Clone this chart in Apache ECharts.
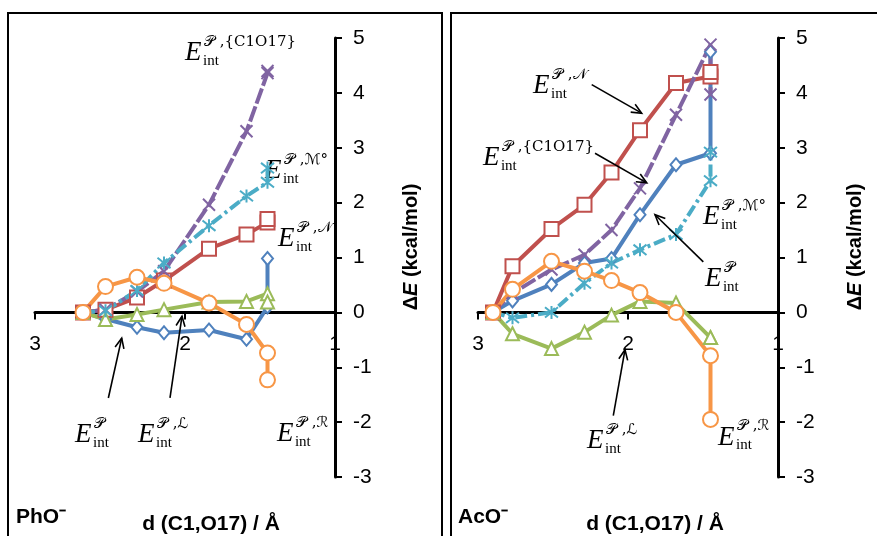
<!DOCTYPE html>
<html>
<head>
<meta charset="utf-8">
<script src="https://cdn.jsdelivr.net/npm/echarts@6/dist/echarts.min.js"></script>
<style>
  html, body { margin: 0; padding: 0; background: #fff; }
  #chart { width: 877px; height: 536px; }
</style>
</head>
<body>
<div id="chart"></div>
<script>
// C1–O17 distance (Å) and energy components (kcal/mol) for the PhO− panel
const phoDist = [2.68, 2.53, 2.32, 2.14, 1.84, 1.59, 1.45, 1.45];
const phoP    = [0, -0.12, -0.27, -0.37, -0.32, -0.49, 0.10, 0.98];
const phoN    = [0, 0.05, 0.27, 0.58, 1.16, 1.42, 1.64, 1.70];
const phoL    = [0, -0.13, -0.04, 0.05, 0.19, 0.20, 0.34, 0.19];
const phoC    = [0, 0.05, 0.38, 0.75, 1.96, 3.30, 4.36, 4.40];
const phoM    = [0, 0.03, 0.40, 0.90, 1.58, 2.12, 2.37, 2.63];
const phoR    = [0, 0.47, 0.64, 0.53, 0.17, -0.22, -0.74, -1.23];

// Same components for the AcO− panel
const acoDist = [2.90, 2.77, 2.51, 2.29, 2.11, 1.92, 1.68, 1.45, 1.45];
const acoP    = [0, 0.21, 0.51, 0.90, 0.98, 1.78, 2.69, 2.90, 4.75];
const acoN    = [0, 0.84, 1.52, 1.96, 2.55, 3.32, 4.18, 4.30, 4.38];
const acoL    = [0, -0.39, -0.66, -0.36, -0.05, 0.20, 0.17, -0.46, -0.46];
const acoC    = [0, 0.35, 0.78, 1.05, 1.50, 2.26, 3.60, 4.88, 3.97];
const acoM    = [0, -0.10, 0, 0.53, 0.90, 1.14, 1.42, 2.40, 2.92];
const acoR    = [0, 0.42, 0.93, 0.75, 0.58, 0.36, 0, -0.79, -1.95];

const panelNames = ['PhO\u207B', 'AcO\u207B'];
const xAxisTitle = 'd (C1,O17) / \u00C5';
const yTicks = { min: -3, max: 5, step: 1 };
const xTicks = { min: 1, max: 3, step: 1 };

// superscript parts of the term labels
const supP = '\uD835\uDCAB';
const supN = supP + ' ,\uD835\uDCA9';
const supL = supP + ' ,\u2112';
const supR = supP + ' ,\u211B';
const supM = supP + ' ,\u2133\u00B0';
const supC = supP + ' ,{C1O17}';

const zip = (xs, ys) => xs.map((x, i) => [x, ys[i]]);

const COLORS = { P: '#4F81BD', N: '#C0504D', L: '#9BBB59', C: '#8064A2', M: '#4BACC6', R: '#F79646' };
const X_PATH = 'path://M0,0L10,10M0,10L10,0';
const STAR_PATH = 'path://M1,1L9,9M1,9L9,1M5,0L5,10';

function lineSeries(gi, xs, ys, key, symbol, size, dash) {
  return {
    type: 'line', xAxisIndex: gi, yAxisIndex: gi,
    data: zip(xs, ys),
    symbol: symbol, symbolSize: size, showSymbol: true,
    lineStyle: { color: COLORS[key], width: 4, type: dash || 'solid' },
    itemStyle: { color: '#fff', borderColor: COLORS[key], borderWidth: 2 },
    emphasis: { disabled: true },
    z: 2
  };
}

function panelSeries(gi, d, s) {
  return [
    lineSeries(gi, d, s.P, 'P', 'diamond', [11, 13]),
    lineSeries(gi, d, s.N, 'N', 'rect', 14),
    lineSeries(gi, d, s.L, 'L', 'triangle', 13),
    lineSeries(gi, d, s.C, 'C', X_PATH, 12, [16, 3]),
    lineSeries(gi, d, s.M, 'M', STAR_PATH, 13, [12, 4, 3, 4]),
    lineSeries(gi, d, s.R, 'R', 'circle', 15)
  ];
}

const AXIS_FONT = '"Liberation Sans", Arial, sans-serif';
const GRID_H = 439;
// the distance axis is drawn along ΔE = 0
const zeroOffset = -GRID_H * (0 - yTicks.min) / (yTicks.max - yTicks.min);

function xAxisFor(gi) {
  return {
    gridIndex: gi, type: 'value', inverse: true,
    min: xTicks.min, max: xTicks.max, interval: xTicks.step,
    offset: zeroOffset,
    axisLine: { show: true, onZero: false, lineStyle: { color: '#000', width: 3 } },
    axisTick: { show: true, length: 7, lineStyle: { color: '#000', width: 2 } },
    axisLabel: { color: '#000', fontSize: 21, fontFamily: AXIS_FONT, margin: 21 },
    splitLine: { show: false }
  };
}
function yAxisFor(gi) {
  return {
    gridIndex: gi, type: 'value', position: 'right',
    min: yTicks.min, max: yTicks.max, interval: yTicks.step,
    axisLine: { show: true, onZero: false, lineStyle: { color: '#000', width: 3 } },
    axisTick: { show: true, length: 7, lineStyle: { color: '#000', width: 2 } },
    axisLabel: { color: '#000', fontSize: 21, fontFamily: AXIS_FONT, margin: 18 },
    splitLine: { show: false }
  };
}

const chart = echarts.init(document.getElementById('chart'), null, { renderer: 'canvas' });
chart.setOption({
  animation: false,
  backgroundColor: '#fff',
  grid: [
    { left: 35, top: 38, width: 300, height: GRID_H, outerBoundsMode: 'none' },
    { left: 478, top: 38, width: 300, height: GRID_H, outerBoundsMode: 'none' }
  ],
  xAxis: [xAxisFor(0), xAxisFor(1)],
  yAxis: [yAxisFor(0), yAxisFor(1)],
  series: [
    ...panelSeries(0, phoDist, { P: phoP, N: phoN, L: phoL, C: phoC, M: phoM, R: phoR }),
    ...panelSeries(1, acoDist, { P: acoP, N: acoN, L: acoL, C: acoC, M: acoM, R: acoR })
  ]
});

// term labels (anchored at the left / mid-cap of the E) and pointer arrows, in data units
const notes = [
  { g: 0, at: [2.00, 4.72], sup: supC },
  { g: 0, at: [1.467, 2.58], sup: supM },
  { g: 0, at: [1.38, 1.34], sup: supN },
  { g: 0, at: [2.733, -2.23], sup: supP },
  { g: 0, at: [2.313, -2.23], sup: supL },
  { g: 0, at: [1.387, -2.21], sup: supR },
  { g: 1, at: [2.633, 4.13], sup: supN },
  { g: 1, at: [2.967, 2.82], sup: supC },
  { g: 1, at: [1.50, 1.74], sup: supM },
  { g: 1, at: [1.487, 0.61], sup: supP },
  { g: 1, at: [2.273, -2.34], sup: supL },
  { g: 1, at: [1.40, -2.28], sup: supR }
];
const arrows = [
  { g: 0, from: [2.511, -1.56], to: [2.422, -0.47] },
  { g: 0, from: [2.10, -1.56], to: [2.02, -0.07] },
  { g: 1, from: [2.242, 4.15], to: [1.909, 3.63] },
  { g: 1, from: [2.22, 2.90], to: [1.875, 2.36] },
  { g: 1, from: [1.498, 0.92], to: [1.82, 1.78] },
  { g: 1, from: [2.098, -1.88], to: [2.02, -0.68] }
];

const SERIF = '"Liberation Serif", "Times New Roman", serif';
const SCRIPT = '"DejaVu Serif", "DejaVu Sans", "Noto Sans CJK JP", serif';

function termLabel(n) {
  const p = chart.convertToPixel({ gridIndex: n.g }, n.at);
  return {
    type: 'group', x: p[0], y: p[1], z: 50,
    children: [
      { type: 'text', style: { text: 'E', x: 0, y: 0, font: 'italic 27px ' + SERIF, fill: '#000', verticalAlign: 'middle' } },
      { type: 'text', style: { text: 'int', x: 18, y: 8, font: '15px ' + SERIF, fill: '#000', verticalAlign: 'middle' } },
      { type: 'text', style: { text: n.sup, x: 19, y: -11, font: '15px ' + SCRIPT, fill: '#000', verticalAlign: 'middle' } }
    ]
  };
}

function pointer(a) {
  const s = chart.convertToPixel({ gridIndex: a.g }, a.from);
  const e = chart.convertToPixel({ gridIndex: a.g }, a.to);
  const ang = Math.atan2(e[1] - s[1], e[0] - s[0]);
  const L = 11, spread = 0.42;
  const h1 = [e[0] - L * Math.cos(ang - spread), e[1] - L * Math.sin(ang - spread)];
  const h2 = [e[0] - L * Math.cos(ang + spread), e[1] - L * Math.sin(ang + spread)];
  const st = { stroke: '#000', lineWidth: 1.6, fill: null };
  return [
    { type: 'polyline', z: 40, shape: { points: [s, e] }, style: st },
    { type: 'polyline', z: 40, shape: { points: [h1, e, h2] }, style: st }
  ];
}

const yName = (cx) => ({
  type: 'text', x: cx, y: 247, rotation: Math.PI / 2, z: 30,
  style: {
    text: '{n|\u0394}{e|E}{n| (kcal/mol)}', align: 'center', verticalAlign: 'middle',
    rich: {
      n: { font: 'bold 20px ' + AXIS_FONT, fill: '#000' },
      e: { font: 'italic bold 20px ' + AXIS_FONT, fill: '#000' }
    }
  }
});

const graphics = [
  { type: 'rect', shape: { x: 8, y: 13, width: 434, height: 600 }, style: { stroke: '#000', lineWidth: 2, fill: null }, z: 1 },
  { type: 'rect', shape: { x: 451, y: 13, width: 500, height: 600 }, style: { stroke: '#000', lineWidth: 2, fill: null }, z: 1 },
  yName(411), yName(855),
  { type: 'text', x: 16, y: 517, z: 30, style: { text: panelNames[0], font: 'bold 21px ' + AXIS_FONT, fill: '#000', verticalAlign: 'middle' } },
  { type: 'text', x: 458, y: 517, z: 30, style: { text: panelNames[1], font: 'bold 21px ' + AXIS_FONT, fill: '#000', verticalAlign: 'middle' } },
  { type: 'text', x: 211, y: 524, z: 30, style: { text: xAxisTitle, font: 'bold 21px ' + AXIS_FONT, fill: '#000', align: 'center', verticalAlign: 'middle' } },
  { type: 'text', x: 655, y: 524, z: 30, style: { text: xAxisTitle, font: 'bold 21px ' + AXIS_FONT, fill: '#000', align: 'center', verticalAlign: 'middle' } },
  ...notes.map(termLabel),
  ...arrows.flatMap(pointer)
];
chart.setOption({ graphic: graphics });
</script>
</body>
</html>
